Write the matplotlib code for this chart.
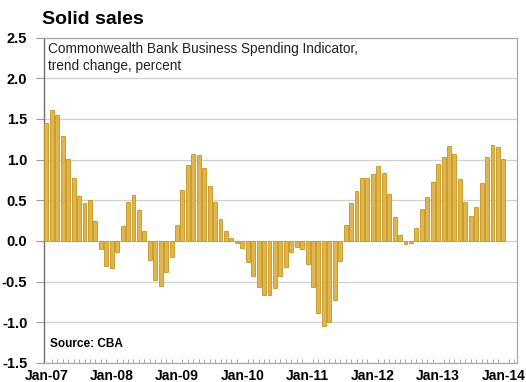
import matplotlib
matplotlib.use("Agg")
import matplotlib.pyplot as plt
from matplotlib.ticker import MultipleLocator
import numpy as np

plt.rcParams['font.family'] = ['Liberation Sans', 'DejaVu Sans']

# Monthly trend change, Jan-07 .. Jan-14
spending = [
    1.45, 1.61, 1.55, 1.29, 1.01, 0.77, 0.55, 0.47, 0.50, 0.24, -0.10, -0.31,   # 2007
    -0.33, -0.14, 0.18, 0.48, 0.56, 0.385, 0.12, -0.24, -0.48, -0.55, -0.38, -0.20,  # 2008
    0.20, 0.63, 0.93, 1.07, 1.05, 0.90, 0.68, 0.48, 0.27, 0.12, 0.03, -0.02,    # 2009
    -0.09, -0.26, -0.43, -0.57, -0.66, -0.66, -0.58, -0.43, -0.32, -0.14, -0.08, -0.10,  # 2010
    -0.28, -0.57, -0.88, -1.05, -1.00, -0.72, -0.25, 0.20, 0.47, 0.61, 0.77, 0.77,  # 2011
    0.82, 0.92, 0.83, 0.58, 0.29, 0.07, -0.04, -0.02, 0.155, 0.39, 0.54, 0.73,  # 2012
    0.94, 1.03, 1.17, 1.07, 0.76, 0.48, 0.31, 0.42, 0.71, 1.03, 1.18, 1.16,     # 2013
    1.01,                                                                        # 2014
]
year_labels = ["Jan-07", "Jan-08", "Jan-09", "Jan-10", "Jan-11", "Jan-12", "Jan-13", "Jan-14"]

fig = plt.figure(figsize=(5.26, 3.82), dpi=100)
ax = fig.add_axes([44 / 526, 19 / 382, (517 - 44) / 526, (363 - 37.5) / 382])

months = np.arange(len(spending))
ax.bar(months, spending, width=0.72, color="#E0B54E", edgecolor="#C4951C",
       linewidth=0.6, zorder=3)

ax.set_xlim(-0.45, 86.5)
ax.set_ylim(-1.5, 2.5)
ax.yaxis.set_major_locator(MultipleLocator(0.5))
ax.set_yticklabels([f"{v:.1f}" for v in ax.get_yticks()])
ax.grid(axis="y", color="#CFCFCF", linewidth=0.9, zorder=0)

ax.set_xticks(np.arange(0, len(spending), 12))
ax.set_xticklabels(year_labels)
ax.set_xticks(np.arange(0, 87), minor=True)

for lab in ax.get_xticklabels():
    lab.set_fontweight("bold")
    lab.set_fontsize(10)
for lab in ax.get_yticklabels():
    lab.set_fontweight("bold")
    lab.set_fontsize(10.5)
ax.tick_params(axis="x", which="major", length=0, pad=4)
ax.tick_params(axis="x", which="minor", direction="in", length=3, color="#9A9A9A", width=0.6)
ax.tick_params(axis="y", which="major", direction="out", length=6, color="#9A9A9A",
               width=0.8, pad=6)

for side in ("top", "right", "bottom"):
    ax.spines[side].set_color("#A8A8A8")
    ax.spines[side].set_linewidth(0.9)
ax.spines["left"].set_color("#707070")
ax.spines["left"].set_linewidth(1.0)

fig.text(42 / 526, 1 - 20 / 382, "Solid sales", fontsize=14, fontweight="bold",
         ha="left", va="center")
ax.text(0.009, 0.985, "Commonwealth Bank Business Spending Indicator,\ntrend change, percent",
        transform=ax.transAxes, fontsize=9.8, ha="left", va="top", linespacing=1.25,
        color="#222222")
ax.text(0.013, 0.058, "Source: CBA", transform=ax.transAxes, fontsize=8.5,
        fontweight="bold", ha="left", va="center")

fig.savefig("out.png", dpi=100)
